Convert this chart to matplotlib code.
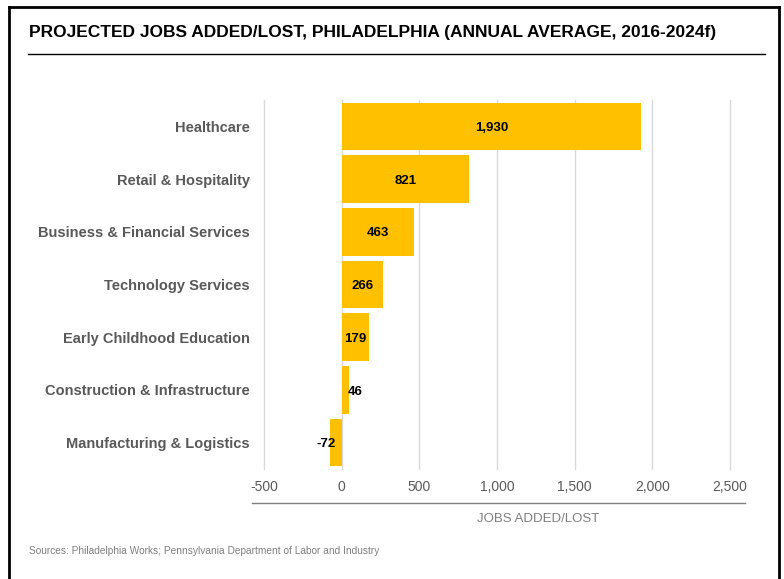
import matplotlib.pyplot as plt
from matplotlib.lines import Line2D

plt.rcParams["font.family"] = ["Liberation Sans", "DejaVu Sans"]

categories = [
    "Healthcare",
    "Retail & Hospitality",
    "Business & Financial Services",
    "Technology Services",
    "Early Childhood Education",
    "Construction & Infrastructure",
    "Manufacturing & Logistics",
]
jobs = [1930, 821, 463, 266, 179, 46, -72]
xticks = [-500, 0, 500, 1000, 1500, 2000, 2500]

fig = plt.figure(figsize=(7.84, 5.79), dpi=100)
ax = fig.add_axes([264 / 784, 1 - 469 / 579, (730 - 264) / 784, (469 - 100) / 579])

y = list(range(len(categories)))
ax.barh(y, jobs, height=0.9, color="#FFC000", zorder=3)
ax.set_ylim(len(categories) - 0.5, -0.5)
ax.set_xlim(-500, 2500)

ax.set_yticks(y)
ax.set_yticklabels(categories, fontsize=10.5, fontweight="bold", color="#595959")
ax.set_xticks(xticks)
ax.set_xticklabels([f"{t:,}" for t in xticks], fontsize=10, color="#595959")
ax.tick_params(axis="both", length=0)
ax.tick_params(axis="x", pad=8)
ax.tick_params(axis="y", pad=10)

ax.grid(axis="x", color="#D9D9D9", linewidth=1, zorder=0)
for gl in ax.get_xgridlines():
    gl.set_clip_on(False)
for s in ax.spines.values():
    s.set_visible(False)

# value labels
for yi, v in zip(y, jobs):
    if v > 150:
        ax.text(v / 2, yi + 0.03, f"{v:,}", ha="center", va="center", fontsize=9.5,
                fontweight="bold", color="black", zorder=4)
    elif v >= 0:
        ax.annotate(f"{v:,}", (v, yi + 0.03), xytext=(-1, 0), textcoords="offset points",
                    ha="left", va="center", fontsize=9.5, fontweight="bold", zorder=4)
    else:
        ax.annotate(f"{v:,}", (0, yi + 0.03), xytext=(-4, 0), textcoords="offset points",
                    ha="right", va="center", fontsize=9.5, fontweight="bold", zorder=4)

# frame around figure (no bottom edge)
fw, fh = 784, 579
frame_kw = dict(color="black", linewidth=2, transform=fig.transFigure)
fig.add_artist(Line2D([9 / fw, 9 / fw], [0, 1 - 7 / fh], **frame_kw))
fig.add_artist(Line2D([9 / fw, 779 / fw], [1 - 7 / fh, 1 - 7 / fh], **frame_kw))
fig.add_artist(Line2D([779 / fw, 779 / fw], [0, 1 - 7 / fh], **frame_kw))

# title and rule
fig.text(29 / fw, 1 - 33 / fh, "PROJECTED JOBS ADDED/LOST, PHILADELPHIA (ANNUAL AVERAGE, 2016-2024f)",
         fontsize=12.5, fontweight="bold", color="black", va="center", ha="left")
fig.add_artist(Line2D([28 / fw, 765 / fw], [1 - 54 / fh, 1 - 54 / fh],
                      color="black", linewidth=1, transform=fig.transFigure))

# axis rule and label
fig.add_artist(Line2D([252 / fw, 745 / fw], [1 - 503 / fh, 1 - 503 / fh],
                      color="#808080", linewidth=1, transform=fig.transFigure))
fig.text(538 / fw, 1 - 519 / fh, "JOBS ADDED/LOST", fontsize=9.5, color="#7F7F7F",
         ha="center", va="center")

fig.text(29 / fw, 1 - 551 / fh,
         "Sources: Philadelphia Works; Pennsylvania Department of Labor and Industry",
         fontsize=7.3, color="#7F7F7F", ha="left", va="center")

fig.savefig("out.png", dpi=100)
